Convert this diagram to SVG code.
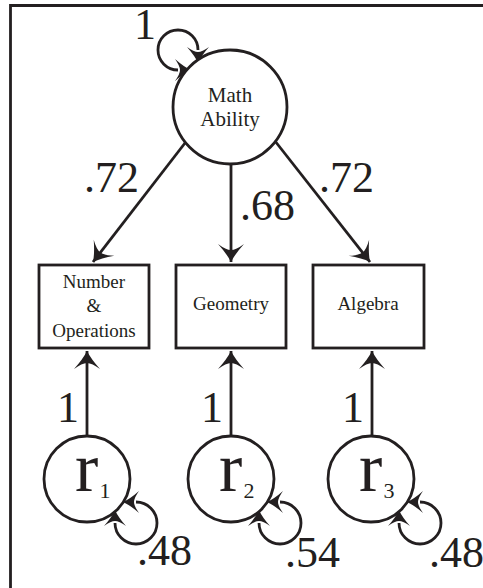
<svg xmlns="http://www.w3.org/2000/svg" width="483" height="588" viewBox="0 0 483 588">
<style>
.shape{fill:#fff;stroke:#231f20;stroke-width:2.8}
.line{fill:none;stroke:#231f20;stroke-width:2.8}
.lbl{font-family:"Liberation Serif","Times New Roman",serif;fill:#231f20}
.num{font-size:44px}
.node{font-size:19px;text-anchor:middle}
.big{font-size:21px}
.r{font-size:70px}
.sub{font-size:22px}
</style>
<defs>
<marker id="ah" markerUnits="userSpaceOnUse" markerWidth="34" markerHeight="34" viewBox="-24 -17 28 34" refX="0" refY="0" orient="auto-start-reverse">
<path d="M0,0 Q-8,-4 -18,-13 Q-12,-5 -12,0 Q-12,5 -18,13 Q-8,4 0,0 Z" fill="#231f20"/>
</marker>
<marker id="lh" markerUnits="userSpaceOnUse" markerWidth="34" markerHeight="34" viewBox="-6 -17 28 34" refX="0" refY="0" orient="auto-start-reverse">
<path d="M13,0 Q6,-3 -3,-11 Q2,-4 2,0 Q2,4 -3,11 Q6,3 13,0 Z" fill="#231f20"/>
</marker>
</defs>
<g id="frame"><path d="M10.5,588 V5.5 H483" class="line" stroke-width="2.2"/></g>
<g id="connectors">
<path class="line" d="M185,143 L93,262" marker-end="url(#ah)"/>
<path class="line" d="M231,164 V262" marker-end="url(#ah)"/>
<path class="line" d="M275,141 L370,262" marker-end="url(#ah)"/>
<path class="line" d="M87,436 V351" marker-end="url(#ah)"/>
<path class="line" d="M231,436 V351" marker-end="url(#ah)"/>
<path class="line" d="M372,436 V351" marker-end="url(#ah)"/>
<path class="line" d="M198,50 A20,20 0 1 0 178,70" marker-start="url(#lh)" marker-end="url(#lh)"/>
<path class="line" d="M136,502 A21,21 0 1 1 115,523" marker-start="url(#lh)" marker-end="url(#lh)"/>
<path class="line" d="M280,502 A21,21 0 1 1 259,523" marker-start="url(#lh)" marker-end="url(#lh)"/>
<path class="line" d="M420,502 A21,21 0 1 1 399,523" marker-start="url(#lh)" marker-end="url(#lh)"/>
</g>
<g id="labels" class="lbl num">
<text x="145" y="39" text-anchor="middle">1</text>
<text x="84" y="192">.72</text>
<text x="319" y="192">.72</text>
<text x="240" y="220">.68</text>
<text x="68" y="422" text-anchor="middle">1</text>
<text x="212" y="422" text-anchor="middle">1</text>
<text x="353" y="422" text-anchor="middle">1</text>
<text x="137" y="565">.48</text>
<text x="285" y="567">.54</text>
<text x="429" y="567">.48</text>
</g>
<g id="math-ability">
<circle class="shape" cx="230" cy="107" r="57"/>
<text class="lbl node big" x="230" y="102">Math</text>
<text class="lbl node big" x="230" y="126">Ability</text>
</g>
<g id="number-operations">
<rect class="shape" x="39" y="265" width="110" height="83"/>
<text class="lbl node" x="94" y="288">Number</text>
<text class="lbl node" x="94" y="312">&amp;</text>
<text class="lbl node" x="94" y="337">Operations</text>
</g>
<g id="geometry">
<rect class="shape" x="176" y="265" width="110" height="83"/>
<text class="lbl node" x="231" y="310">Geometry</text>
</g>
<g id="algebra">
<rect class="shape" x="313" y="265" width="111" height="83"/>
<text class="lbl node" x="368" y="310">Algebra</text>
</g>
<g id="r1">
<circle class="shape" cx="87" cy="479" r="43"/>
<text class="lbl r" x="75" y="491">r</text>
<text class="lbl sub" x="99.5" y="498">1</text>
</g>
<g id="r2">
<circle class="shape" cx="231" cy="479" r="43"/>
<text class="lbl r" x="219" y="491">r</text>
<text class="lbl sub" x="243.5" y="498">2</text>
</g>
<g id="r3">
<circle class="shape" cx="371" cy="479" r="43"/>
<text class="lbl r" x="359" y="491">r</text>
<text class="lbl sub" x="383.5" y="498">3</text>
</g>
</svg>
